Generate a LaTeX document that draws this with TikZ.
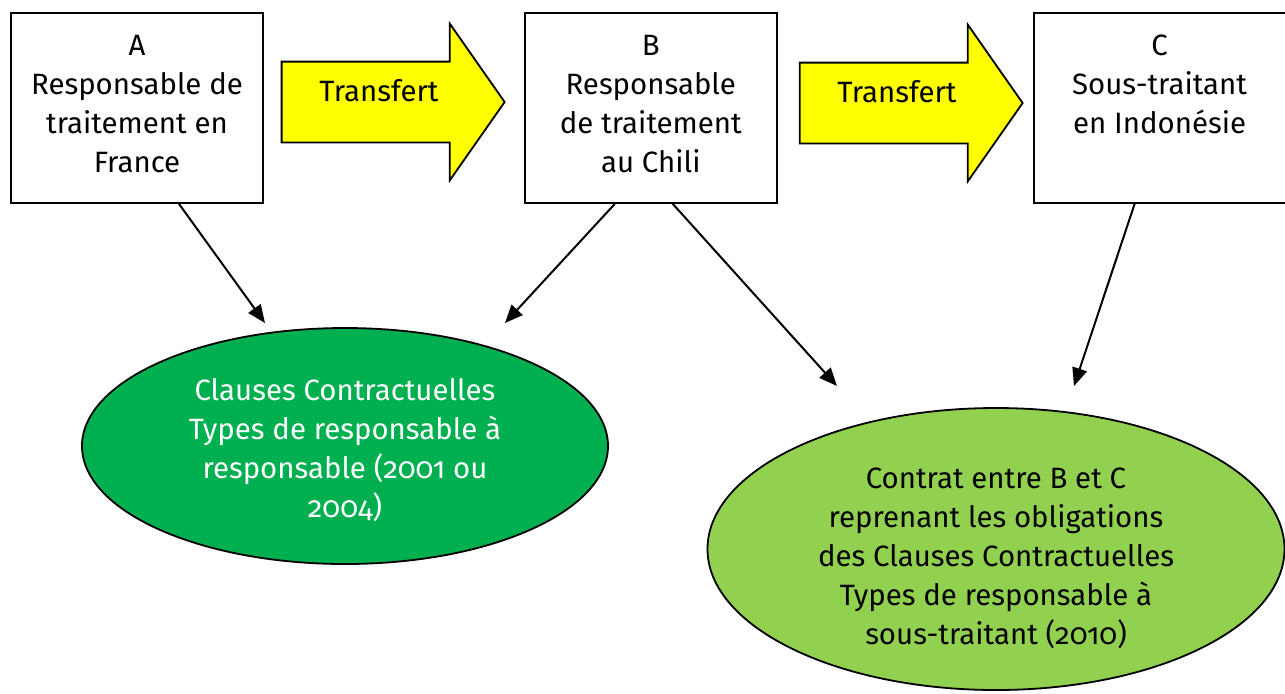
\documentclass[tikz,border=0pt]{standalone}
\usepackage{fontspec}
\setmainfont[Numbers=OldStyle]{Fira Sans}
\usetikzlibrary{positioning,shapes.geometric,shapes.arrows,arrows.meta}
\definecolor{transfertyellow}{HTML}{FFFF00}
\definecolor{cctgreen}{HTML}{00B050}
\definecolor{contratgreen}{HTML}{92D050}
\newcommand{\boxtext}[1]{\parbox[c][95pt][t]{124pt}{\centering\vspace*{11pt}#1}}
\begin{document}
\begin{tikzpicture}[x=0.5pt, y=-0.5pt,
   every node/.style={font=\fontsize{14.7}{19.5}\selectfont},
   actor/.style={draw, line width=0.9pt, inner sep=0pt, minimum width=126pt, minimum height=95pt},
   transfert/.style={single arrow, draw, line width=0.9pt, fill=transfertyellow,
      single arrow head extend=19pt, single arrow tip angle=110,
      minimum height=111.5pt, text height=10pt, text depth=11pt, inner ysep=9.25pt},
   clause/.style={ellipse, draw, line width=0.9pt, inner sep=0pt, align=center},
   link/.style={-{Triangle[length=9pt,width=7.5pt]}, line width=1pt}]
   \useasboundingbox (0,0) rectangle (1285,693);
   \node[actor] (A) at (137,108)   {\boxtext{A\\Responsable de\\traitement en\\France}};
   \node[actor] (B) [right=130pt of A] {\boxtext{B\\Responsable\\de traitement\\au Chili}};
   \node[actor] (C) [right=127.5pt of B] {\boxtext{C\\Sous-traitant\\en Indonésie}};
   \node[transfert] (t1) at (379,102) {Transfert};
   \node[transfert] (t2) at (897,103) {Transfert};
   \node[clause, fill=cctgreen, text=white, minimum width=263pt, minimum height=118pt, inner ysep=-2pt] (cct) at (345,446)
      {\rule{0pt}{15pt}Clauses Contractuelles\\Types de responsable à\\responsable (2001 ou\\2004)};
   \node[clause, fill=contratgreen, minimum width=288.5pt, minimum height=141pt, inner ysep=-4pt] (contrat) at (996,549)
      {\rule{0pt}{20pt}Contrat entre B et C\\reprenant les obligations\\des Clauses Contractuelles\\Types de responsable à\\sous-traitant (2010)};
   \coordinate (cctA) at (265,323);
   \coordinate (cctB) at (505,323);
   \coordinate (contratB) at (837,386);
   \coordinate (contratC) at (1074,386);
   \draw[link] ([xshift=21pt]A.south) -- (cctA);
   \draw[link] ([xshift=-18pt]B.south) -- (cctB);
   \draw[link] ([xshift=11pt]B.south) -- (contratB);
   \draw[link] ([xshift=-12.5pt]C.south) -- (contratC);
\end{tikzpicture}
\end{document}
